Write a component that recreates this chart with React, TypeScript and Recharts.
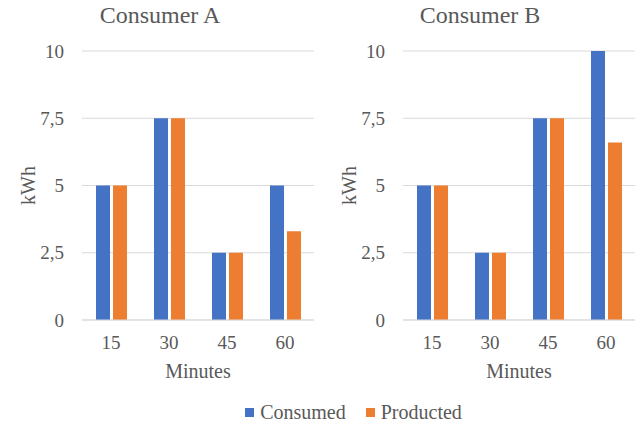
import { Bar, BarChart, CartesianGrid, XAxis, YAxis } from "recharts";

const MINUTES = ["15", "30", "45", "60"];
const Y_TICKS = [0, 2.5, 5, 7.5, 10];

const CONSUMER_A_CONSUMED = [5, 7.5, 2.5, 5];
const CONSUMER_A_PRODUCTED = [5, 7.5, 2.5, 3.3];
const CONSUMER_B_CONSUMED = [5, 2.5, 7.5, 10];
const CONSUMER_B_PRODUCTED = [5, 2.5, 7.5, 6.6];

const SERIES = [
  { key: "consumed", name: "Consumed", color: "#4472C4" },
  { key: "producted", name: "Producted", color: "#ED7D31" },
];

const FONT = "Liberation Serif, DejaVu Serif, serif";
const TEXT = "#595959";

function buildRows(consumed: number[], producted: number[]) {
  return MINUTES.map((minute, i) => ({
    minute,
    consumed: consumed[i],
    producted: producted[i],
  }));
}

type PanelProps = {
  title: string;
  consumed: number[];
  producted: number[];
  left: number;
  width: number;
};

function Panel({ title, consumed, producted, left, width }: PanelProps) {
  const rows = buildRows(consumed, producted);
  const tick = { fontSize: 19, fill: TEXT, fontFamily: FONT };

  return (
    <div style={{ position: "absolute", left, top: 0, width, height: 395 }}>
      <div
        style={{
          position: "absolute",
          top: 2,
          left: 0,
          width,
          textAlign: "center",
          fontFamily: FONT,
          fontSize: 24,
          color: TEXT,
        }}
      >
        {title}
      </div>
      <BarChart
        width={width}
        height={395}
        data={rows}
        barSize={14}
        barGap={3}
        margin={{ top: 51, right: width - 314, left: 0, bottom: 15 }}
        style={{ fontFamily: FONT }}
      >
        <CartesianGrid vertical={false} stroke="#D9D9D9" />
        <XAxis
          dataKey="minute"
          axisLine={{ stroke: "#D9D9D9" }}
          tickLine={false}
          tick={tick}
          tickMargin={10}
          height={60}
          label={{
            value: "Minutes",
            position: "insideBottom",
            offset: 2,
            style: { fontSize: 20, fill: TEXT, fontFamily: FONT },
          }}
        />
        <YAxis
          width={82}
          domain={[0, 10]}
          ticks={Y_TICKS}
          axisLine={false}
          tickLine={false}
          tick={tick}
          tickMargin={12}
          tickFormatter={(v: number) => String(v).replace(".", ",")}
          label={{
            value: "kWh",
            angle: -90,
            position: "insideLeft",
            offset: 28,
            style: {
              fontSize: 20,
              fill: TEXT,
              fontFamily: FONT,
              textAnchor: "middle",
            },
          }}
        />
        {SERIES.map((s) => (
          <Bar
            key={s.key}
            dataKey={s.key}
            name={s.name}
            fill={s.color}
            isAnimationActive={false}
          />
        ))}
      </BarChart>
    </div>
  );
}

export default function App() {
  return (
    <div
      style={{
        position: "absolute",
        left: 0,
        top: 0,
        width: 639,
        height: 427,
        background: "#FFFFFF",
      }}
    >
      <Panel
        title="Consumer A"
        consumed={CONSUMER_A_CONSUMED}
        producted={CONSUMER_A_PRODUCTED}
        left={0}
        width={320}
      />
      <Panel
        title="Consumer B"
        consumed={CONSUMER_B_CONSUMED}
        producted={CONSUMER_B_PRODUCTED}
        left={321}
        width={318}
      />
      <div
        style={{
          position: "absolute",
          top: 401,
          left: 0,
          width: 639,
          display: "flex",
          justifyContent: "center",
          paddingLeft: 68,
          boxSizing: "border-box",
          gap: 20,
          fontFamily: FONT,
          fontSize: 20,
          color: TEXT,
        }}
      >
        {SERIES.map((s) => (
          <div key={s.key} style={{ display: "flex", alignItems: "center" }}>
            <span
              style={{
                display: "inline-block",
                width: 9,
                height: 9,
                background: s.color,
                marginRight: 6,
              }}
            />
            {s.name}
          </div>
        ))}
      </div>
    </div>
  );
}
